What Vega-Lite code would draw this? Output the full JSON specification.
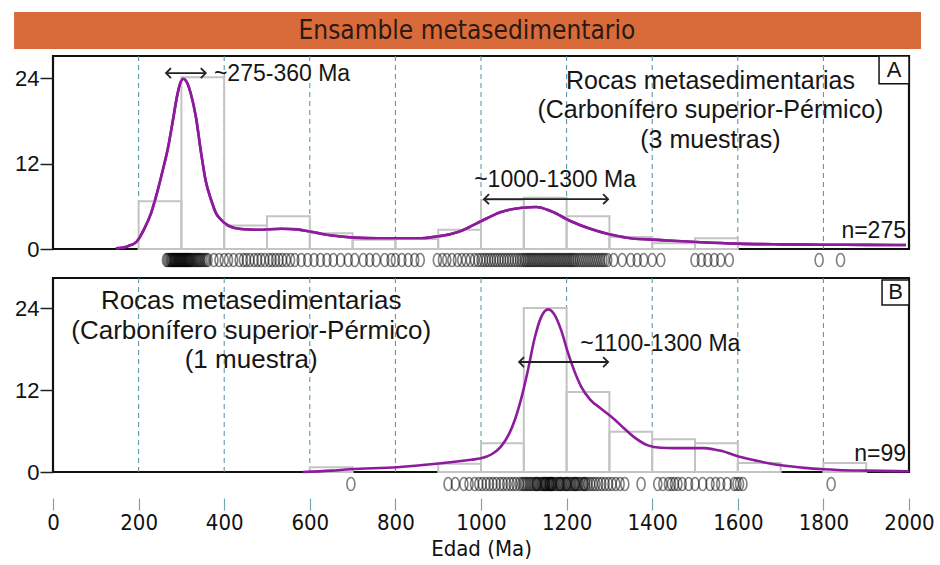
{
  "$schema": "https://vega.github.io/schema/vega-lite/v6.json",
  "padding": {"left": 13, "top": 12, "right": 4, "bottom": 1},
  "background": "white",
  "config": {
    "font": "Liberation Sans",
    "view": {"stroke": "#111", "strokeWidth": 2.2},
    "text": {"font": "Liberation Sans", "color": "#161616"}
  },
  "datasets": {
    "grid": [{"x": 200}, {"x": 400}, {"x": 600}, {"x": 800}, {"x": 1000}, {"x": 1200}, {"x": 1400}, {"x": 1600}, {"x": 1800}],
    "histA": [
      {"x": 200, "x2": 300, "y": 6.7}, {"x": 300, "x2": 400, "y": 24.1}, {"x": 400, "x2": 500, "y": 3.3},
      {"x": 500, "x2": 600, "y": 4.6}, {"x": 600, "x2": 700, "y": 2.2}, {"x": 700, "x2": 800, "y": 1.3},
      {"x": 800, "x2": 900, "y": 1.4}, {"x": 900, "x2": 1000, "y": 2.7}, {"x": 1000, "x2": 1100, "y": 6.9},
      {"x": 1100, "x2": 1200, "y": 7.2}, {"x": 1200, "x2": 1300, "y": 4.6}, {"x": 1300, "x2": 1400, "y": 1.7},
      {"x": 1400, "x2": 1500, "y": 0.8}, {"x": 1500, "x2": 1600, "y": 1.5}
    ],
    "kdeA": [
      {"x": 147, "y": 0.1}, {"x": 175, "y": 0.4}, {"x": 195, "y": 1.0}, {"x": 213, "y": 2.8}, {"x": 229, "y": 5.0},
      {"x": 240, "y": 7.2}, {"x": 257, "y": 11.2}, {"x": 268, "y": 14.0}, {"x": 280, "y": 18.0}, {"x": 290, "y": 21.5},
      {"x": 297, "y": 23.2}, {"x": 304, "y": 23.9}, {"x": 312, "y": 23.5}, {"x": 322, "y": 21.8}, {"x": 334, "y": 18.5},
      {"x": 346, "y": 13.5}, {"x": 357, "y": 9.5}, {"x": 370, "y": 6.8}, {"x": 381, "y": 5.0}, {"x": 393, "y": 4.1},
      {"x": 409, "y": 3.3}, {"x": 439, "y": 2.8}, {"x": 480, "y": 2.7}, {"x": 533, "y": 2.85}, {"x": 570, "y": 2.75},
      {"x": 596, "y": 2.5}, {"x": 630, "y": 2.1}, {"x": 657, "y": 1.85}, {"x": 703, "y": 1.6}, {"x": 760, "y": 1.5},
      {"x": 860, "y": 1.5}, {"x": 890, "y": 1.7}, {"x": 930, "y": 2.1}, {"x": 960, "y": 2.7}, {"x": 977, "y": 3.2},
      {"x": 1000, "y": 3.9}, {"x": 1047, "y": 5.2}, {"x": 1096, "y": 5.8}, {"x": 1129, "y": 5.9}, {"x": 1164, "y": 5.3},
      {"x": 1210, "y": 3.9}, {"x": 1257, "y": 2.8}, {"x": 1297, "y": 2.1}, {"x": 1350, "y": 1.5}, {"x": 1421, "y": 1.25},
      {"x": 1514, "y": 0.95}, {"x": 1600, "y": 0.75}, {"x": 1700, "y": 0.65}, {"x": 1800, "y": 0.6}, {"x": 1900, "y": 0.58},
      {"x": 1993, "y": 0.56}
    ],
    "rugA": [
      {"x": 265}, {"x": 268}, {"x": 271}, {"x": 274}, {"x": 276}, {"x": 278}, {"x": 280}, {"x": 282}, {"x": 284}, {"x": 286},
      {"x": 288}, {"x": 290}, {"x": 292}, {"x": 294}, {"x": 296}, {"x": 298}, {"x": 300}, {"x": 302}, {"x": 304}, {"x": 306},
      {"x": 308}, {"x": 310}, {"x": 312}, {"x": 314}, {"x": 316}, {"x": 318}, {"x": 320}, {"x": 322}, {"x": 325}, {"x": 328},
      {"x": 331}, {"x": 334}, {"x": 337}, {"x": 340}, {"x": 343}, {"x": 346}, {"x": 350}, {"x": 354}, {"x": 358}, {"x": 362},
      {"x": 376}, {"x": 388}, {"x": 400}, {"x": 410}, {"x": 422}, {"x": 435}, {"x": 445}, {"x": 452}, {"x": 460}, {"x": 470},
      {"x": 478}, {"x": 486}, {"x": 495}, {"x": 505}, {"x": 512}, {"x": 520}, {"x": 528}, {"x": 536}, {"x": 545}, {"x": 555},
      {"x": 565}, {"x": 580}, {"x": 595}, {"x": 610}, {"x": 625}, {"x": 640}, {"x": 655}, {"x": 672}, {"x": 690}, {"x": 705},
      {"x": 725}, {"x": 740}, {"x": 755}, {"x": 775}, {"x": 790}, {"x": 800}, {"x": 815}, {"x": 830}, {"x": 845}, {"x": 858},
      {"x": 898}, {"x": 910}, {"x": 920}, {"x": 932}, {"x": 945}, {"x": 955}, {"x": 965}, {"x": 975}, {"x": 985}, {"x": 993},
      {"x": 1000}, {"x": 1006}, {"x": 1012}, {"x": 1018}, {"x": 1024}, {"x": 1030}, {"x": 1036}, {"x": 1042}, {"x": 1048}, {"x": 1054},
      {"x": 1060}, {"x": 1066}, {"x": 1072}, {"x": 1078}, {"x": 1084}, {"x": 1090}, {"x": 1095}, {"x": 1100}, {"x": 1104}, {"x": 1108},
      {"x": 1112}, {"x": 1116}, {"x": 1120}, {"x": 1124}, {"x": 1128}, {"x": 1132}, {"x": 1136}, {"x": 1140}, {"x": 1144}, {"x": 1148},
      {"x": 1152}, {"x": 1156}, {"x": 1160}, {"x": 1164}, {"x": 1168}, {"x": 1172}, {"x": 1176}, {"x": 1180}, {"x": 1184}, {"x": 1188},
      {"x": 1192}, {"x": 1196}, {"x": 1200}, {"x": 1204}, {"x": 1208}, {"x": 1212}, {"x": 1216}, {"x": 1220}, {"x": 1225}, {"x": 1230},
      {"x": 1235}, {"x": 1240}, {"x": 1245}, {"x": 1250}, {"x": 1255}, {"x": 1260}, {"x": 1265}, {"x": 1270}, {"x": 1275}, {"x": 1280},
      {"x": 1285}, {"x": 1290}, {"x": 1296}, {"x": 1310}, {"x": 1330}, {"x": 1350}, {"x": 1365}, {"x": 1380}, {"x": 1400}, {"x": 1420},
      {"x": 1500}, {"x": 1515}, {"x": 1530}, {"x": 1545}, {"x": 1560}, {"x": 1580}, {"x": 1790}, {"x": 1840}
    ],
    "histB": [
      {"x": 600, "x2": 700, "y": 0.7}, {"x": 900, "x2": 1000, "y": 1.2}, {"x": 1000, "x2": 1100, "y": 4.2},
      {"x": 1100, "x2": 1200, "y": 24.0}, {"x": 1200, "x2": 1300, "y": 11.7}, {"x": 1300, "x2": 1400, "y": 5.9},
      {"x": 1400, "x2": 1500, "y": 4.8}, {"x": 1500, "x2": 1600, "y": 4.2}, {"x": 1600, "x2": 1700, "y": 1.3},
      {"x": 1800, "x2": 1900, "y": 1.3}
    ],
    "kdeB": [
      {"x": 584, "y": 0.0}, {"x": 650, "y": 0.2}, {"x": 694, "y": 0.4}, {"x": 804, "y": 0.7}, {"x": 895, "y": 1.2},
      {"x": 977, "y": 1.8}, {"x": 1000, "y": 2.0}, {"x": 1025, "y": 2.6}, {"x": 1045, "y": 3.6}, {"x": 1065, "y": 5.5},
      {"x": 1080, "y": 7.8}, {"x": 1095, "y": 11.0}, {"x": 1110, "y": 15.0}, {"x": 1125, "y": 19.5}, {"x": 1140, "y": 22.6},
      {"x": 1157, "y": 23.8}, {"x": 1172, "y": 23.0}, {"x": 1187, "y": 20.8}, {"x": 1203, "y": 17.5}, {"x": 1218, "y": 14.8},
      {"x": 1234, "y": 12.5}, {"x": 1255, "y": 10.6}, {"x": 1280, "y": 9.3}, {"x": 1310, "y": 7.8}, {"x": 1334, "y": 6.4},
      {"x": 1360, "y": 5.0}, {"x": 1390, "y": 3.9}, {"x": 1420, "y": 3.55}, {"x": 1450, "y": 3.5}, {"x": 1490, "y": 3.5},
      {"x": 1521, "y": 3.5}, {"x": 1545, "y": 3.3}, {"x": 1561, "y": 3.1}, {"x": 1600, "y": 2.3}, {"x": 1640, "y": 1.7},
      {"x": 1678, "y": 1.2}, {"x": 1720, "y": 0.85}, {"x": 1755, "y": 0.6}, {"x": 1800, "y": 0.4}, {"x": 1834, "y": 0.3},
      {"x": 1900, "y": 0.2}, {"x": 2000, "y": 0.1}
    ],
    "rugB": [
      {"x": 696}, {"x": 923}, {"x": 940}, {"x": 960}, {"x": 972}, {"x": 985}, {"x": 995}, {"x": 1003}, {"x": 1012}, {"x": 1020},
      {"x": 1028}, {"x": 1036}, {"x": 1045}, {"x": 1052}, {"x": 1060}, {"x": 1068}, {"x": 1075}, {"x": 1082}, {"x": 1090},
      {"x": 1096}, {"x": 1100}, {"x": 1104}, {"x": 1108}, {"x": 1112}, {"x": 1116}, {"x": 1120}, {"x": 1124}, {"x": 1128}, {"x": 1130},
      {"x": 1132}, {"x": 1136}, {"x": 1140}, {"x": 1143}, {"x": 1146}, {"x": 1149}, {"x": 1150}, {"x": 1152}, {"x": 1155}, {"x": 1158},
      {"x": 1160}, {"x": 1161}, {"x": 1164}, {"x": 1165}, {"x": 1167}, {"x": 1170}, {"x": 1174}, {"x": 1178}, {"x": 1182}, {"x": 1185},
      {"x": 1186}, {"x": 1190}, {"x": 1194}, {"x": 1198}, {"x": 1200}, {"x": 1202}, {"x": 1206}, {"x": 1210}, {"x": 1214}, {"x": 1218},
      {"x": 1220}, {"x": 1222}, {"x": 1226}, {"x": 1230}, {"x": 1235}, {"x": 1240}, {"x": 1241}, {"x": 1245}, {"x": 1250}, {"x": 1256},
      {"x": 1262}, {"x": 1268}, {"x": 1275}, {"x": 1282}, {"x": 1290}, {"x": 1298}, {"x": 1306}, {"x": 1315}, {"x": 1325}, {"x": 1336},
      {"x": 1374}, {"x": 1413}, {"x": 1425}, {"x": 1438}, {"x": 1445}, {"x": 1452}, {"x": 1460}, {"x": 1470}, {"x": 1485}, {"x": 1500},
      {"x": 1518}, {"x": 1535}, {"x": 1548}, {"x": 1560}, {"x": 1575}, {"x": 1592}, {"x": 1598}, {"x": 1604}, {"x": 1612}, {"x": 1818}
    ]
  },
  "spacing": 5,
  "align": "none",
  "vconcat": [
    {
      "width": 856,
      "height": 37,
      "view": {"stroke": null},
      "data": {"values": [{"t": "Ensamble metasedimentario"}]},
      "layer": [
        {
          "mark": {"type": "rect", "color": "#d96b3a"},
          "encoding": {
            "x": {"datum": -91, "scale": {"domain": [0, 2000], "nice": false, "zero": false}, "axis": null},
            "x2": {"datum": 2028}
          }
        },
        {
          "mark": {"type": "text", "font": "Liberation Sans Narrow, DejaVu Sans Condensed, sans-serif", "fontSize": 26, "color": "#2a1a12"},
          "encoding": {"x": {"datum": 967, "axis": null}, "text": {"field": "t"}}
        }
      ]
    },
    {
      "width": 856,
      "height": 193,
      "data": {"values": [{}]},
      "layer": [
        {
          "data": {"name": "kdeA"},
          "mark": {"type": "line", "color": "#8c1c9b", "strokeWidth": 2.6, "interpolate": "monotone"},
          "encoding": {
            "x": {"field": "x", "type": "quantitative", "scale": {"domain": [0, 2000], "nice": false, "zero": false}, "axis": null},
            "y": {"field": "y", "type": "quantitative", "scale": {"domain": [0, 27.1], "nice": false},
              "axis": {"values": [0, 12, 24], "domain": false, "grid": false, "tickSize": 13, "tickColor": "#222", "tickWidth": 1.5,
                "labelPadding": 1, "labelFont": "Liberation Sans", "labelFontSize": 22, "labelColor": "#111", "title": null}}
          }
        },
        {
          "data": {"name": "grid"},
          "mark": {"type": "rule", "stroke": "#4f8fa3", "strokeDash": [5, 4], "strokeWidth": 1},
          "encoding": {"x": {"field": "x", "type": "quantitative", "axis": null}}
        },
        {
          "data": {"name": "histA"},
          "mark": {"type": "rect", "stroke": "#c4c4c4", "strokeWidth": 2, "fill": "white", "fillOpacity": 0},
          "encoding": {
            "x": {"field": "x", "type": "quantitative", "axis": null},
            "x2": {"field": "x2"},
            "y": {"field": "y", "type": "quantitative"},
            "y2": {"datum": 0}
          }
        },
        {
          "data": {"name": "kdeA"},
          "mark": {"type": "line", "color": "#8c1c9b", "strokeWidth": 2.6, "interpolate": "monotone"},
          "encoding": {"x": {"field": "x", "type": "quantitative", "axis": null}, "y": {"field": "y", "type": "quantitative"}}
        },
        {
          "data": {"name": "rugA"},
          "mark": {"type": "point", "shape": "M -0.62 0 A 0.62 1 0 1 0 0.62 0 A 0.62 1 0 1 0 -0.62 0 Z", "size": 169, "filled": false, "stroke": "#000", "strokeOpacity": 0.7, "strokeWidth": 1.6},
          "encoding": {"x": {"field": "x", "type": "quantitative", "axis": null}, "y": {"datum": 0}, "yOffset": {"value": 11}}
        },
        {
          "mark": {"type": "text", "fontSize": 23, "align": "left"},
          "encoding": {"x": {"datum": 376, "axis": null}, "y": {"datum": 24.6}, "text": {"value": "~275-360 Ma"}}
        },
        {
          "mark": {"type": "rule", "stroke": "#222", "strokeWidth": 1.8},
          "encoding": {"x": {"datum": 264, "axis": null}, "x2": {"datum": 357}, "y": {"datum": 24.7}}
        },
        {
          "mark": {"type": "point", "shape": "M 1 -1 L 0 0 L 1 1", "size": 100, "filled": false, "stroke": "#222", "strokeWidth": 1.8, "opacity": 1},
          "encoding": {"x": {"datum": 264, "axis": null}, "y": {"datum": 24.7}}
        },
        {
          "mark": {"type": "point", "shape": "M -1 -1 L 0 0 L -1 1", "size": 100, "filled": false, "stroke": "#222", "strokeWidth": 1.8, "opacity": 1},
          "encoding": {"x": {"datum": 357, "axis": null}, "y": {"datum": 24.7}}
        },
        {
          "mark": {"type": "text", "fontSize": 23, "align": "center"},
          "encoding": {"x": {"datum": 1173, "axis": null}, "y": {"datum": 9.7}, "text": {"value": "~1000-1300 Ma"}}
        },
        {
          "mark": {"type": "rule", "stroke": "#222", "strokeWidth": 1.8},
          "encoding": {"x": {"datum": 1007, "axis": null}, "x2": {"datum": 1297}, "y": {"datum": 7.0}}
        },
        {
          "mark": {"type": "point", "shape": "M 1 -1 L 0 0 L 1 1", "size": 100, "filled": false, "stroke": "#222", "strokeWidth": 1.8, "opacity": 1},
          "encoding": {"x": {"datum": 1007, "axis": null}, "y": {"datum": 7.0}}
        },
        {
          "mark": {"type": "point", "shape": "M -1 -1 L 0 0 L -1 1", "size": 100, "filled": false, "stroke": "#222", "strokeWidth": 1.8, "opacity": 1},
          "encoding": {"x": {"datum": 1297, "axis": null}, "y": {"datum": 7.0}}
        },
        {
          "mark": {"type": "text", "fontSize": 25, "align": "center", "baseline": "middle", "lineHeight": 29.5},
          "encoding": {"x": {"datum": 1536, "axis": null}, "y": {"datum": 23.6},
            "text": {"value": ["Rocas metasedimentarias", "(Carbonífero superior-Pérmico)", "(3 muestras)"]}}
        },
        {
          "mark": {"type": "text", "fontSize": 23, "align": "right"},
          "encoding": {"x": {"datum": 1993, "axis": null}, "y": {"datum": 2.5}, "text": {"value": "n=275"}}
        },
        {
          "mark": {"type": "rect", "stroke": "#111", "strokeWidth": 1.5, "fill": "white"},
          "encoding": {"x": {"datum": 1930, "axis": null}, "x2": {"datum": 2000}, "y": {"datum": 27.1}, "y2": {"datum": 23.2}}
        },
        {
          "mark": {"type": "text", "fontSize": 22, "align": "center"},
          "encoding": {"x": {"datum": 1965, "axis": null}, "y": {"datum": 25.1}, "text": {"value": "A"}}
        }
      ]
    },
    {
      "width": 856,
      "height": 194,
      "data": {"values": [{}]},
      "layer": [
        {
          "data": {"name": "grid"},
          "mark": {"type": "rule", "stroke": "#4f8fa3", "strokeDash": [5, 4], "strokeWidth": 1},
          "encoding": {"x": {"field": "x", "type": "quantitative", "scale": {"domain": [0, 2000], "nice": false, "zero": false},
            "axis": {"values": [0, 200, 400, 600, 800, 1000, 1200, 1400, 1600, 1800, 2000], "format": "d", "offset": 26, "domain": false, "grid": false,
              "tickSize": 12, "tickColor": "#72a6b6", "tickWidth": 1.2, "labelPadding": 2,
              "labelFont": "Liberation Sans Narrow, DejaVu Sans Condensed, sans-serif", "labelFontSize": 22, "labelColor": "#111",
              "labelFlush": false, "labelOverlap": false, "title": "Edad (Ma)",
              "titleFont": "Liberation Sans Narrow, DejaVu Sans Condensed, sans-serif", "titleFontSize": 22, "titleFontWeight": "normal",
              "titleColor": "#111", "titlePadding": 5}}}
        },
        {
          "data": {"name": "histB"},
          "mark": {"type": "rect", "stroke": "#c4c4c4", "strokeWidth": 2, "fill": "white", "fillOpacity": 0},
          "encoding": {
            "x": {"field": "x", "type": "quantitative"},
            "x2": {"field": "x2"},
            "y": {"field": "y", "type": "quantitative", "scale": {"domain": [0, 28.4], "nice": false},
              "axis": {"values": [0, 12, 24], "domain": false, "grid": false, "tickSize": 13, "tickColor": "#222", "tickWidth": 1.5,
                "labelPadding": 1, "labelFont": "Liberation Sans", "labelFontSize": 22, "labelColor": "#111", "title": null}},
            "y2": {"datum": 0}
          }
        },
        {
          "data": {"name": "kdeB"},
          "mark": {"type": "line", "color": "#8c1c9b", "strokeWidth": 2.6, "interpolate": "monotone"},
          "encoding": {"x": {"field": "x", "type": "quantitative"}, "y": {"field": "y", "type": "quantitative"}}
        },
        {
          "data": {"name": "rugB"},
          "mark": {"type": "point", "shape": "M -0.62 0 A 0.62 1 0 1 0 0.62 0 A 0.62 1 0 1 0 -0.62 0 Z", "size": 169, "filled": false, "stroke": "#000", "strokeOpacity": 0.7, "strokeWidth": 1.6},
          "encoding": {"x": {"field": "x", "type": "quantitative"}, "y": {"datum": 0}, "yOffset": {"value": 12}}
        },
        {
          "mark": {"type": "text", "fontSize": 26, "align": "center", "baseline": "middle", "lineHeight": 29.5},
          "encoding": {"x": {"datum": 463}, "y": {"datum": 25.0},
            "text": {"value": ["Rocas metasedimentarias", "(Carbonífero superior-Pérmico)", "(1 muestra)"]}}
        },
        {
          "mark": {"type": "text", "fontSize": 23, "align": "center"},
          "encoding": {"x": {"datum": 1419}, "y": {"datum": 18.7}, "text": {"value": "~1100-1300 Ma"}}
        },
        {
          "mark": {"type": "rule", "stroke": "#222", "strokeWidth": 1.8},
          "encoding": {"x": {"datum": 1089}, "x2": {"datum": 1297}, "y": {"datum": 16.1}}
        },
        {
          "mark": {"type": "point", "shape": "M 1 -1 L 0 0 L 1 1", "size": 100, "filled": false, "stroke": "#222", "strokeWidth": 1.8, "opacity": 1},
          "encoding": {"x": {"datum": 1089}, "y": {"datum": 16.1}}
        },
        {
          "mark": {"type": "point", "shape": "M -1 -1 L 0 0 L -1 1", "size": 100, "filled": false, "stroke": "#222", "strokeWidth": 1.8, "opacity": 1},
          "encoding": {"x": {"datum": 1297}, "y": {"datum": 16.1}}
        },
        {
          "mark": {"type": "text", "fontSize": 23, "align": "right"},
          "encoding": {"x": {"datum": 1993}, "y": {"datum": 2.6}, "text": {"value": "n=99"}}
        },
        {
          "mark": {"type": "rect", "stroke": "#111", "strokeWidth": 1.5, "fill": "white"},
          "encoding": {"x": {"datum": 1937}, "x2": {"datum": 2000}, "y": {"datum": 28.1}, "y2": {"datum": 24.45}}
        },
        {
          "mark": {"type": "text", "fontSize": 22, "align": "center"},
          "encoding": {"x": {"datum": 1968.5}, "y": {"datum": 26.3}, "text": {"value": "B"}}
        }
      ]
    }
  ]
}
